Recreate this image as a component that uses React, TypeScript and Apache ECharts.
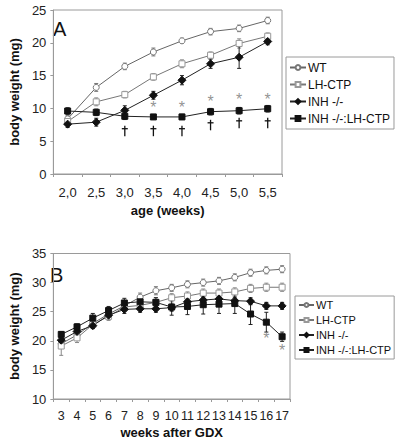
import React, { useEffect, useRef } from "react";
import * as echarts from "echarts";

// Panel A
const ageCats = ["2,0", "2,5", "3,0", "3,5", "4,0", "4,5", "5,0", "5,5"];
const aWT = [8.4, 13.2, 16.4, 18.6, 20.3, 21.7, 22.2, 23.4];
const aWTerr = [0.5, 0.6, 0.5, 0.6, 0.4, 0.5, 0.5, 0.5];
const aLH = [8.0, 11.0, 12.1, 14.8, 16.8, 18.1, 19.9, 21.0];
const aLHerr = [0.5, 0.6, 0.5, 0.5, 0.6, 0.5, 0.7, 0.5];
const aINH = [7.6, 7.9, 9.7, 12.0, 14.3, 16.8, 17.8, 20.2];
const aINHerr = [0.5, 0.6, 0.7, 0.6, 0.7, 0.7, 1.7, 0.5];
const aINHLH = [9.6, 9.4, 8.8, 8.7, 8.7, 9.5, 9.65, 9.95];
const aINHLHerr = [0.5, 0.5, 0.5, 0.3, 0.4, 0.5, 0.5, 0.5];
const aStarCats = ["3,5", "4,0", "4,5", "5,0", "5,5"];
const aStarY = [10.2, 10.2, 11.0, 11.3, 11.4];
const aDaggerIdx = [2, 3, 4, 5, 6, 7]; // categories 3,0 … 5,5
const aDaggerY = [6.6, 6.6, 6.6, 7.5, 7.8, 7.8];

// Panel B
const weekCats = ["3", "4", "5", "6", "7", "8", "9", "10", "11", "12", "13", "14", "15", "16", "17"];
const bWT = [19.5, 21.0, 23.0, 24.6, 26.0, 27.5, 28.6, 29.1, 29.7, 30.0, 30.3, 30.9, 31.7, 32.1, 32.3];
const bWTerr = [0.8, 0.7, 0.6, 0.6, 0.6, 0.7, 0.7, 0.6, 0.6, 0.6, 0.6, 0.6, 0.6, 0.6, 0.6];
const bLH = [19.1, 20.5, 22.8, 24.2, 25.8, 26.1, 26.6, 27.4, 27.7, 28.2, 28.2, 28.4, 29.0, 29.2, 29.2];
const bLHerr = [1.6, 0.8, 0.7, 0.7, 0.7, 0.7, 0.8, 0.7, 0.7, 0.7, 0.7, 0.7, 0.7, 0.7, 0.7];
const bINH = [20.1, 21.6, 22.6, 24.4, 25.4, 25.5, 25.5, 25.7, 26.7, 27.0, 27.2, 26.9, 26.8, 26.0, 26.0];
const bINHerr = [0.5, 0.6, 0.5, 0.6, 0.7, 0.6, 0.6, 0.6, 0.6, 0.6, 0.6, 0.6, 0.6, 0.6, 0.6];
const bINHLH = [21.1, 22.4, 23.9, 25.2, 26.5, 26.7, 26.6, 25.8, 25.9, 26.2, 26.3, 26.4, 24.6, 23.2, 20.7];
const bINHLHerr = [0.5, 0.5, 0.8, 0.7, 0.8, 0.6, 0.8, 1.4, 1.4, 1.6, 1.6, 1.7, 1.8, 1.7, 0.8];
const bStarCats = ["16", "17"];
const bStarY = [20.4, 18.3];

const seriesNames = ["WT", "LH-CTP", "INH -/-", "INH -/-:LH-CTP"];

const FONT = "Liberation Sans, Arial, sans-serif";
const GRAY = "#777";
const DARK = "#111";
const AXIS = "#9a9a9a";

const styles = [
  { symbol: "circle", fill: "#fff", stroke: GRAY, line: "#666" },
  { symbol: "rect", fill: "#fff", stroke: "#999", line: "#777" },
  { symbol: "diamond", fill: DARK, stroke: DARK, line: "#222" },
  { symbol: "rect", fill: DARK, stroke: DARK, line: "#222" },
];

function errData(vals: number[], errs: number[]) {
  return vals.map((v, i) => [i, v - errs[i], v + errs[i]]);
}

function errSeries(xi: number, vals: number[], errs: number[], color: string) {
  return {
    type: "custom",
    xAxisIndex: xi,
    yAxisIndex: xi,
    z: 1,
    silent: true,
    data: errData(vals, errs),
    renderItem: (params: any, api: any) => {
      const x = api.value(0);
      const lo = api.coord([x, api.value(1)]);
      const hi = api.coord([x, api.value(2)]);
      const w = 2;
      const st = { stroke: color, lineWidth: 1 };
      return {
        type: "group",
        children: [
          { type: "line", shape: { x1: lo[0], y1: lo[1], x2: hi[0], y2: hi[1] }, style: st },
          { type: "line", shape: { x1: lo[0] - w, y1: lo[1], x2: lo[0] + w, y2: lo[1] }, style: st },
          { type: "line", shape: { x1: hi[0] - w, y1: hi[1], x2: hi[0] + w, y2: hi[1] }, style: st },
        ],
      };
    },
  };
}

function daggerSeries(xi: number, idx: number[], ys: number[]) {
  return {
    type: "custom",
    xAxisIndex: xi,
    yAxisIndex: xi,
    z: 4,
    silent: true,
    data: idx.map((c, i) => [c, ys[i]]),
    renderItem: (params: any, api: any) => {
      const p = api.coord([api.value(0), api.value(1)]);
      const st = { stroke: "#111", lineWidth: 1.3 };
      return {
        type: "group",
        children: [
          { type: "line", shape: { x1: p[0], y1: p[1] - 5, x2: p[0], y2: p[1] + 5.5 }, style: st },
          { type: "line", shape: { x1: p[0] - 3, y1: p[1] - 2, x2: p[0] + 3, y2: p[1] - 2 }, style: st },
        ],
      };
    },
  };
}

function lineSeries(xi: number, k: number, vals: number[]) {
  const s = styles[k];
  return {
    type: "line",
    name: seriesNames[k],
    xAxisIndex: xi,
    yAxisIndex: xi,
    z: 3,
    data: vals,
    symbol: s.symbol,
    symbolSize: k === 2 ? 8 : 6,
    showAllSymbol: true,
    lineStyle: { color: s.line, width: 1 },
    itemStyle: { color: s.fill, borderColor: s.stroke, borderWidth: 1 },
  };
}

function markSeries(xi: number, cats: string[], ys: number[], text: string, color: string, size: number) {
  return {
    type: "scatter",
    xAxisIndex: xi,
    yAxisIndex: xi,
    symbolSize: 1,
    silent: true,
    z: 4,
    itemStyle: { color: "rgba(0,0,0,0)" },
    data: cats.map((c, i) => [c, ys[i]]),
    label: {
      show: true,
      position: "inside",
      formatter: text,
      color,
      textBorderWidth: 0,
      textBorderColor: "transparent",
      fontSize: size,
      fontFamily: FONT,
    },
  };
}

export default function App() {
  const ref = useRef<HTMLDivElement>(null);
  useEffect(() => {
    if (!ref.current) return;
    const chart = echarts.init(ref.current, undefined, { renderer: "svg" });
    const axisLabel = { color: "#222", fontSize: 13, fontFamily: FONT };
    const nameStyle = { color: "#111", fontSize: 13, fontWeight: "bold" as const, fontFamily: FONT };
    chart.setOption({
      animation: false,
      backgroundColor: "#fff",
      textStyle: { fontFamily: FONT },
      grid: [
        { left: 46, top: 10, width: 236, height: 164, show: true, borderColor: AXIS, borderWidth: 1 },
        { left: 42, top: 253.5, width: 248, height: 148, show: true, borderColor: AXIS, borderWidth: 1 },
      ],
      xAxis: [
        {
          type: "category",
          gridIndex: 0,
          data: ageCats,
          boundaryGap: true,
          name: "age (weeks)",
          nameLocation: "middle",
          nameGap: 30,
          nameTextStyle: nameStyle,
          axisLine: { lineStyle: { color: AXIS } },
          axisTick: { show: true, length: 3, lineStyle: { color: AXIS } },
          axisLabel: { ...axisLabel, margin: 12 },
        },
        {
          type: "category",
          gridIndex: 1,
          data: weekCats,
          boundaryGap: true,
          name: "weeks after GDX",
          nameLocation: "middle",
          nameGap: 27,
          nameTextStyle: nameStyle,
          axisLine: { lineStyle: { color: AXIS } },
          axisTick: { show: true, length: 3, lineStyle: { color: AXIS } },
          axisLabel: { ...axisLabel, fontSize: 12.5, margin: 10, interval: 0 },
        },
      ],
      yAxis: [
        {
          type: "value",
          gridIndex: 0,
          min: 0,
          max: 25,
          interval: 5,
          name: "body weight (mg)",
          nameLocation: "middle",
          nameGap: 29,
          nameTextStyle: nameStyle,
          axisLine: { show: true, lineStyle: { color: AXIS } },
          axisTick: { show: true, length: 3, lineStyle: { color: AXIS } },
          splitLine: { show: false },
          axisLabel: { ...axisLabel, margin: 7 },
        },
        {
          type: "value",
          gridIndex: 1,
          min: 10,
          max: 35,
          interval: 5,
          name: "body weight (mg)",
          nameLocation: "middle",
          nameGap: 26,
          nameTextStyle: nameStyle,
          axisLine: { show: true, lineStyle: { color: AXIS } },
          axisTick: { show: true, length: 3, lineStyle: { color: AXIS } },
          splitLine: { show: false },
          axisLabel: { ...axisLabel, margin: 7 },
        },
      ],
      legend: [
        {
          data: seriesNames,
          orient: "vertical",
          left: 286,
          top: 57,
          itemWidth: 16,
          itemHeight: 6,
          itemGap: 4,
          padding: [4, 4, 4, 3],
          borderColor: AXIS,
          borderWidth: 1,
          backgroundColor: "#fff",
          selectedMode: false,
          textStyle: { fontSize: 12, lineHeight: 13, color: "#111", fontFamily: FONT, padding: [0, 0, 0, -3] },
        },
        {
          data: seriesNames,
          orient: "vertical",
          left: 295,
          top: 296,
          itemWidth: 15,
          itemHeight: 5,
          itemGap: 3,
          padding: [3, 3, 3, 3],
          borderColor: AXIS,
          borderWidth: 1,
          backgroundColor: "#fff",
          selectedMode: false,
          textStyle: { fontSize: 11, lineHeight: 12, color: "#111", fontFamily: FONT, padding: [0, 0, 0, -3] },
        },
      ],
      graphic: [
        { type: "text", left: 53, top: 19, style: { text: "A", fontSize: 20, fill: "#111", fontFamily: FONT } },
        { type: "text", left: 50, top: 265, style: { text: "B", fontSize: 20, fill: "#111", fontFamily: FONT } },
      ],
      series: [
        errSeries(0, aWT, aWTerr, "#777"),
        errSeries(0, aLH, aLHerr, "#888"),
        errSeries(0, aINH, aINHerr, "#222"),
        errSeries(0, aINHLH, aINHLHerr, "#222"),
        lineSeries(0, 0, aWT),
        lineSeries(0, 1, aLH),
        lineSeries(0, 2, aINH),
        lineSeries(0, 3, aINHLH),
        markSeries(0, aStarCats, aStarY, "*", "#777", 16),
        daggerSeries(0, aDaggerIdx, aDaggerY),
        errSeries(1, bWT, bWTerr, "#777"),
        errSeries(1, bLH, bLHerr, "#888"),
        errSeries(1, bINH, bINHerr, "#222"),
        errSeries(1, bINHLH, bINHLHerr, "#222"),
        lineSeries(1, 0, bWT),
        lineSeries(1, 1, bLH),
        lineSeries(1, 2, bINH),
        lineSeries(1, 3, bINHLH),
        markSeries(1, bStarCats, bStarY, "*", "#777", 16),
      ],
    });
    return () => chart.dispose();
  }, []);
  return (
    <div
      ref={ref}
      style={{ position: "fixed", left: 0, top: 0, width: 400, height: 440, background: "#fff" }}
    />
  );
}
